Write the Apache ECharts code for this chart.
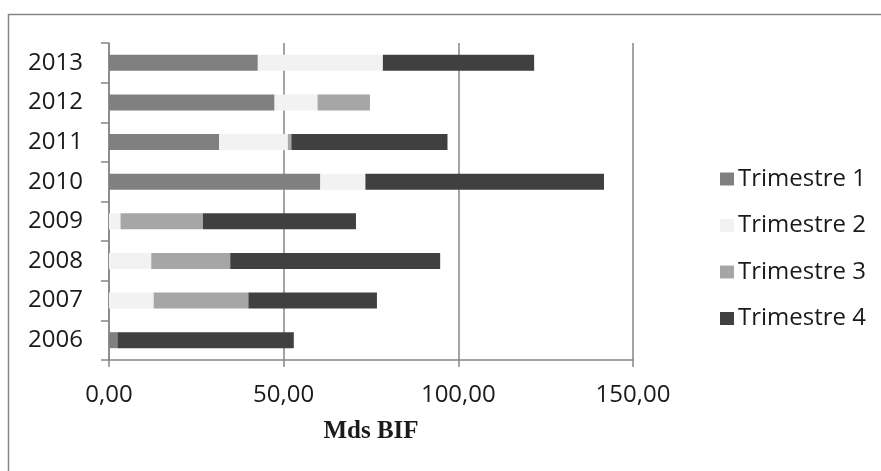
<!DOCTYPE html>
<html>
<head>
<meta charset="utf-8">
<script src="https://cdn.jsdelivr.net/npm/echarts@6/dist/echarts.min.js"></script>
<style>
html,body{margin:0;padding:0;background:#fff;}
#chart{width:881px;height:471px;}
</style>
</head>
<body>
<div id="chart"></div>
<script>
const years = ['2006','2007','2008','2009','2010','2011','2012','2013'];
const seriesNames = ['Trimestre 1','Trimestre 2','Trimestre 3','Trimestre 4'];
const trimestre1 = [2.4, 0, 0, 0, 60.5, 31.5, 47.4, 42.6];
const trimestre2 = [0, 12.8, 12.1, 3.3, 12.9, 19.7, 12.3, 35.8];
const trimestre3 = [0, 27.1, 22.6, 23.6, 0, 1.0, 15.0, 0];
const trimestre4 = [50.5, 36.8, 60.1, 43.8, 68.3, 44.7, 0, 43.3];
const xTicks = [0, 50, 100, 150];
const axisName = 'Mds BIF';

const colors = ['#808080', '#f2f2f2', '#a6a6a6', '#404040'];
const values = [trimestre1, trimestre2, trimestre3, trimestre4];
const FONT = 'Open Sans';

const chart = echarts.init(document.getElementById('chart'), null, {renderer: 'canvas'});
chart.setOption({
  animation: false,
  backgroundColor: '#fff',
  color: colors,
  graphic: [{
    type: 'rect',
    shape: {x: 8.5, y: 14.5, width: 1000, height: 1000},
    style: {fill: 'none', stroke: '#868686', lineWidth: 1.5},
    silent: true
  }],
  legend: {
    orient: 'vertical',
    left: 715,
    top: 161,
    itemWidth: 14,
    itemHeight: 13,
    itemGap: 20.5,
    icon: 'rect',
    data: seriesNames,
    textStyle: {fontFamily: FONT, fontSize: 24, color: '#1a1a1a', lineHeight: 26, padding: [0, 0, 0, -1]}
  },
  grid: {left: 109, top: 43, width: 524, height: 317, containLabel: false},
  xAxis: {
    type: 'value',
    min: xTicks[0],
    max: xTicks[xTicks.length - 1],
    interval: xTicks[1] - xTicks[0],
    name: axisName,
    nameLocation: 'middle',
    nameGap: 59,
    nameTextStyle: {fontFamily: 'Liberation Serif', fontWeight: 'bold', fontSize: 25, color: '#1a1a1a'},
    axisLine: {show: true, lineStyle: {color: '#868686', width: 1.5}},
    axisTick: {show: true, length: 7, lineStyle: {color: '#868686', width: 1.5}},
    axisLabel: {
      fontFamily: FONT, fontSize: 24, color: '#1a1a1a', margin: 23,
      formatter: v => v.toFixed(2).replace('.', ',')
    },
    splitLine: {show: true, lineStyle: {color: '#868686', width: 1.5}}
  },
  yAxis: {
    type: 'category',
    data: years,
    axisLine: {show: true, lineStyle: {color: '#868686', width: 1.5}},
    axisTick: {show: true, length: 8, lineStyle: {color: '#868686', width: 1.5}},
    axisLabel: {fontFamily: FONT, fontSize: 24, color: '#1a1a1a', margin: 26},
    splitLine: {show: false}
  },
  series: seriesNames.map((n, i) => ({
    name: n,
    type: 'bar',
    stack: 'total',
    data: values[i],
    barWidth: 16,
    itemStyle: {color: colors[i]}
  }))
});
</script>
</body>
</html>
